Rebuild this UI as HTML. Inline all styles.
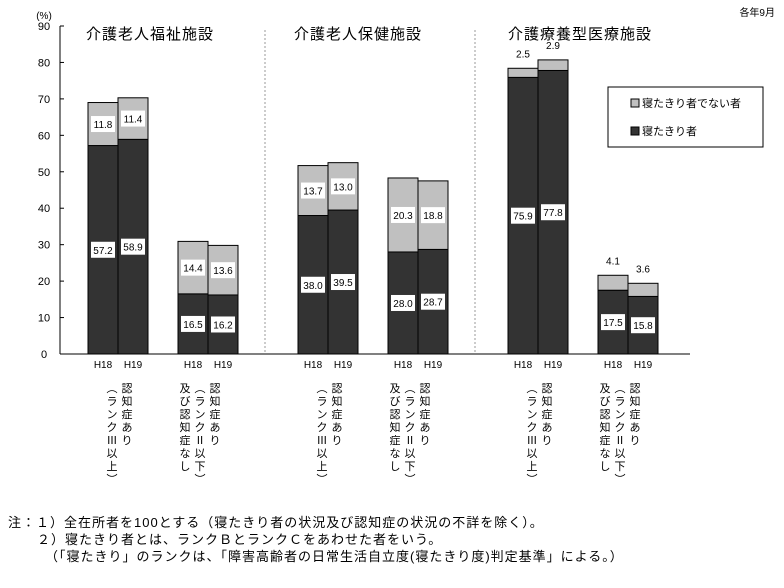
<!DOCTYPE html>
<html><head><meta charset="utf-8"><style>
body{margin:0;background:#fff;}
#wrap{position:relative;width:784px;height:588px;overflow:hidden;font-family:"Liberation Sans","Noto Sans CJK JP",sans-serif;color:#000;}
</style></head><body>
<div id="wrap">
<svg id="svg" width="784" height="588" style="position:absolute;left:0;top:0"></svg>
</div>
<script>
const groups=['介護老人福祉施設','介護老人保健施設','介護療養型医療施設'];
const categories=['g1-h18','g1-h19','g1-h18b','g1-h19b','g2-h18','g2-h19','g2-h18b','g2-h19b','g3-h18','g3-h19','g3-h18b','g3-h19b'];
const bedridden=[57.2,58.9,16.5,16.2,38.0,39.5,28.0,28.7,75.9,77.8,17.5,15.8];
const notBedridden=[11.8,11.4,14.4,13.6,13.7,13.0,20.3,18.8,2.5,2.9,4.1,3.6];
const yTicks=[0,10,20,30,40,50,60,70,80,90];
const yearLabels=['H18','H19'];
const NS='http://www.w3.org/2000/svg';
const svg=document.getElementById('svg');
function y(v){return 354-v*328/90;}
function barX(i){const g=Math.floor(i/4),k=i%4;return 88+g*210+(k>=2?90:0)+(k%2)*30;}
function mk(tag,a){const e=document.createElementNS(NS,tag);for(const k in a)e.setAttribute(k,a[k]);svg.appendChild(e);return e;}
function txt(s,x,yy,size,anchor){const e=mk('text',{x:x,y:yy,'font-size':size,'text-anchor':anchor||'middle','font-family':'"Liberation Sans","Noto Sans CJK JP",sans-serif'});e.textContent=s;return e;}
let ax=mk('line',{x1:60,y1:y(90),x2:60,y2:354,stroke:'#000'});

let bl=mk('line',{x1:60,y1:354,x2:690,y2:354,stroke:'#000'});

yTicks.forEach(v=>{mk('line',{x1:60,y1:y(v),x2:64,y2:y(v),stroke:'#000'});
 const t=txt(String(v),44,y(v)+4,11);});
let u=txt('(%)',44,19,10);
let n=txt('各年9月',775,16,10,'end');
[265,475].forEach(x=>{const d=mk('line',{x1:x,y1:30,x2:x,y2:354,stroke:'#999','stroke-dasharray':'2,2'});});
groups.forEach((g,i)=>{const t=txt(g,[150,358,580][i],39,15);t.setAttribute('letter-spacing','1');});
categories.forEach((c,i)=>{
 const x=barX(i),w=30,b=bedridden[i],nb=notBedridden[i];
 const r1=mk('rect',{x:x,y:y(b),width:w,height:354-y(b),fill:'#333',stroke:'#000'});
 
 const r2=mk('rect',{x:x,y:y(b+nb),width:w,height:y(b)-y(b+nb),fill:'#c0c0c0',stroke:'#000'});
 
 const cx=x+w/2;
 const my=y(b/2);
 mk('rect',{x:cx-12,y:my-8,width:24,height:16,fill:'#fff'});
 const l1=txt(b.toFixed(1),cx,my+4,10);
 if(nb>=8){const my2=y(b+nb/2);mk('rect',{x:cx-12,y:my2-8,width:24,height:16,fill:'#fff'});
  const l2=txt(nb.toFixed(1),cx,my2+4,10);}
 else{const l2=txt(nb.toFixed(1),cx,y(b+nb)-11,10);}
 const yl=txt(yearLabels[i%2],cx,368,10);
});
function vcol(s,x){for(let i=0;i<s.length;i++){const t=txt(s[i],x,392+i*13,11);}}
for(let g=0;g<3;g++){const o=g*210;
 vcol('︵ランクⅢ以上︶',112+o);vcol('認知症あり',127+o);
 vcol('及び認知症なし',185+o);vcol('︵ランクⅡ以下︶',200+o);vcol('認知症あり',215+o);}
let lg=mk('rect',{x:608,y:87,width:155,height:60,fill:'#fff',stroke:'#000'});

mk('rect',{x:631,y:99,width:8,height:8,fill:'#c0c0c0',stroke:'#000'});
let le1=txt('寝たきり者でない者',642,107,11,'start');
mk('rect',{x:631,y:127,width:8,height:8,fill:'#333',stroke:'#000'});
let le2=txt('寝たきり者',642,135,11,'start');
[['注：１）全在所者を100とする（寝たきり者の状況及び認知症の状況の不詳を除く）。',8,527],
 ['２）寝たきり者とは、ランクＢとランクＣをあわせた者をいう。',37,544],
 ['（「寝たきり」のランクは、「障害高齢者の日常生活自立度(寝たきり度)判定基準」による。）',45,561]].forEach(a=>{
 const t=txt(a[0],a[1],a[2],13,'start');t.setAttribute('letter-spacing','1');});
</script>
</body></html>
